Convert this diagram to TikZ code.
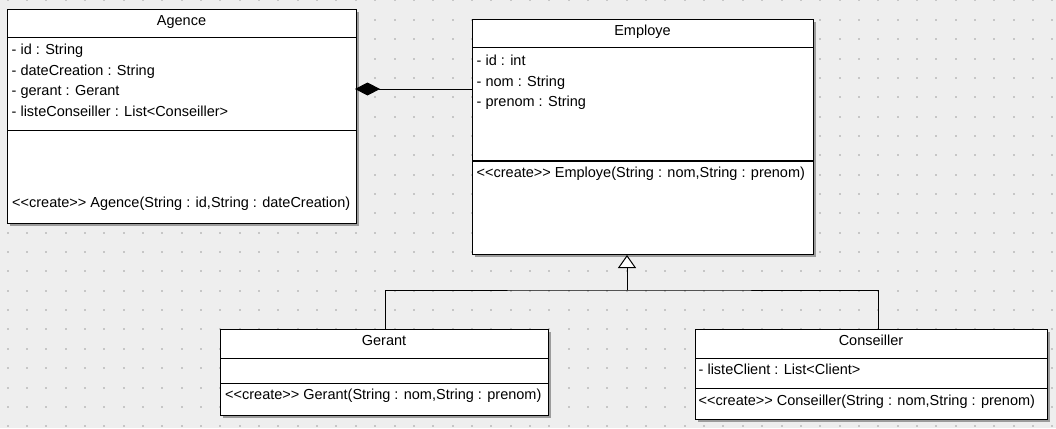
\documentclass[tikz,border=0pt]{standalone}
\usepackage{fontspec}
\setmainfont{Liberation Sans}[Ligatures=TeXOff]
\usetikzlibrary{arrows.meta,shadows}
\definecolor{bg}{HTML}{EEEEEE}
\definecolor{gridc}{HTML}{C6C6C6}
\definecolor{shadowc}{HTML}{9C9C9C}
\newcommand\umlfont{\fontsize{14.5}{17}\selectfont}
\begin{document}
\begin{tikzpicture}[x=1pt,y=-1pt,
  classbox/.style={draw=black, fill=white, line width=1pt, inner sep=0pt, anchor=north west,
    drop shadow={shadow xshift=2.5pt, shadow yshift=-2.5pt, fill=shadowc, opacity=1}},
  sepline/.style={line width=1pt},
  txt/.style={anchor=base west, inner sep=0pt, font=\umlfont},
  title/.style={anchor=base, inner sep=0pt, font=\umlfont},
  conn/.style={line width=1pt}]
\fill[bg] (0,0) rectangle (1056,428);
\useasboundingbox (0,0) rectangle (1056,428);
% grid dots
\foreach \i in {0,...,54}{
  \foreach \j in {0,...,22}{
    \fill[gridc] ({6.5+\i*19.35},{-0.5+\j*19.35}) rectangle +(2,2);
  }
}
% boxes
\node[classbox, minimum width=349pt, minimum height=214pt] (ag) at (7,9) {};
\node[classbox, minimum width=341pt, minimum height=235pt] (em) at (472,19) {};
\node[classbox, minimum width=328pt, minimum height=86pt] (ge) at (220,329) {};
\node[classbox, minimum width=352pt, minimum height=90pt] (co) at (695,329) {};
% compartments
\draw[sepline] (ag.west |- 0,38) -- (ag.east |- 0,38);
\draw[sepline] (ag.west |- 0,130) -- (ag.east |- 0,130);
\draw[sepline] (em.west |- 0,48) -- (em.east |- 0,48);
\draw[line width=2pt] (em.west |- 0,161) -- (em.east |- 0,161);
\draw[sepline] (ge.west |- 0,358) -- (ge.east |- 0,358);
\draw[sepline] (ge.west |- 0,383) -- (ge.east |- 0,383);
\draw[sepline] (co.west |- 0,358) -- (co.east |- 0,358);
\draw[sepline] (co.west |- 0,388) -- (co.east |- 0,388);
% Agence texts
\node[title] (agt) at (181.5,26) {Agence};
\node[txt] (ag1) at (11.5,55) {- id : String};
\node[txt] (ag2) at (11.5,75.3) {- dateCreation : String};
\node[txt] (ag3) at (11.5,95.6) {- gerant : Gerant};
\node[txt] (ag4) at (11.5,116) {- listeConseiller : List<Conseiller>};
\node[txt] (ag5) at (12,207) {<<create>> Agence(String : id,String : dateCreation)};
% Employe texts
\node[title] (emt) at (642.5,35.3) {Employe};
\node[txt] (em1) at (476.5,65.5) {- id : int};
\node[txt] (em2) at (476.5,86) {- nom : String};
\node[txt] (em3) at (476.5,106) {- prenom : String};
\node[txt] (em4) at (476.5,177.5) {<<create>> Employe(String : nom,String : prenom)};
% Gerant texts
\node[title] (get) at (384,345) {Gerant};
\node[txt] (ge1) at (225,399.5) {<<create>> Gerant(String : nom,String : prenom)};
% Conseiller texts
\node[title] (cot) at (871,345) {Conseiller};
\node[txt] (co1) at (698.5,374) {- listeClient : List<Client>};
\node[txt] (co2) at (698.5,405) {<<create>> Conseiller(String : nom,String : prenom)};
% composition
\draw[conn, -{Diamond[length=25pt,width=13pt,fill=black]}, shorten >=-2pt] (em.west |- 0,89) -- (ag.east |- 0,89);
% generalization
\coordinate (jn) at (627,290);
\coordinate (jr) at (878,290);
\draw[conn] (ge.north -| 385,0) |- (jn) -- (jr) -- (jr |- co.north);
\draw[conn, -{Triangle[length=13pt,width=18pt,fill=white]}] (jn) -- (jn |- em.south);
\end{tikzpicture}
\end{document}
